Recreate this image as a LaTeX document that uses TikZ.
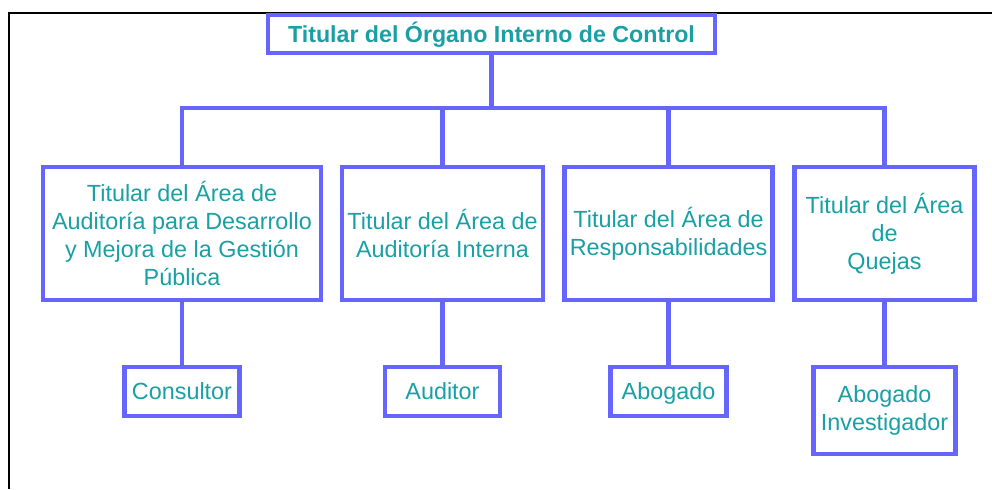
\documentclass[tikz,border=0pt]{standalone}
\usepackage{fontspec}
\setmainfont{Liberation Sans}
\usepackage{tikz}
\usetikzlibrary{positioning}

\definecolor{boxline}{RGB}{102,102,255}
\definecolor{boxtext}{RGB}{25,160,165}

\begin{document}
\begin{tikzpicture}
		\tikzstyle{Unit}	= [rectangle, draw=boxline, line width=2.3pt, fill=white, text=boxtext, align=center, inner sep=0pt, font=\fontsize{13.3}{15.9}\selectfont]
		\tikzstyle{Head}	= [font=\fontsize{13.2}{15.9}\selectfont\bfseries, text height=9.5pt, text depth=0pt]
		\tikzstyle{Post}	= [text height=9.5pt, text depth=0pt]
		\tikzstyle{Link}	= [boxline, line width=2.3pt]

		\useasboundingbox (0,0) rectangle (19.84,9.78);
		\draw [line width=1.7pt] (0.18,0) -- (0.18,9.52) -- (19.84,9.52);

		\node (t0) at (9.83, 9.10) [Unit][Head, minimum width=8.94cm, minimum height=0.76cm] {Titular del Órgano Interno de Control};

		\node (a1) at (3.64, 5.11) [Unit][minimum width=5.56cm, minimum height=2.66cm] {Titular del Área de\\Auditoría para Desarrollo\\y Mejora de la Gestión\\Pública};
		\node (a2) at (8.85, 5.11) [Unit][minimum width=4.02cm, minimum height=2.66cm] {Titular del Área de\\Auditoría Interna};
		\node (a3) at (13.37, 5.11) [Unit][minimum width=4.16cm, minimum height=2.66cm] {Titular del Área de\\Responsabilidades};
		\node (a4) at (17.69, 5.11) [Unit][minimum width=3.60cm, minimum height=2.66cm] {Titular del Área\\de\\Quejas};

		\node (p1) at (3.64, 1.95) [Unit][Post, minimum width=2.30cm, minimum height=0.98cm] {Consultor};
		\node (p2) at (8.85, 1.95) [Unit][Post, minimum width=2.30cm, minimum height=0.98cm] {Auditor};
		\node (p3) at (13.37, 1.95) [Unit][Post, minimum width=2.32cm, minimum height=0.98cm] {Abogado};
		\node (p4) at (17.69, 1.57) [Unit][minimum width=2.84cm, minimum height=1.74cm] {Abogado\\Investigador};

		\coordinate (bus) at (9.83, 7.62);

		\draw (t0) -- (bus) [Link];
		\draw (bus) -| (a1) [Link];
		\draw (bus) -| (a2) [Link];
		\draw (bus) -| (a3) [Link];
		\draw (bus) -| (a4) [Link];

		\draw [-] (a1) to (p1) [Link];
		\draw [-] (a2) to (p2) [Link];
		\draw [-] (a3) to (p3) [Link];
		\draw [-] (a4) to (p4) [Link];
	\end{tikzpicture}
\end{document}
